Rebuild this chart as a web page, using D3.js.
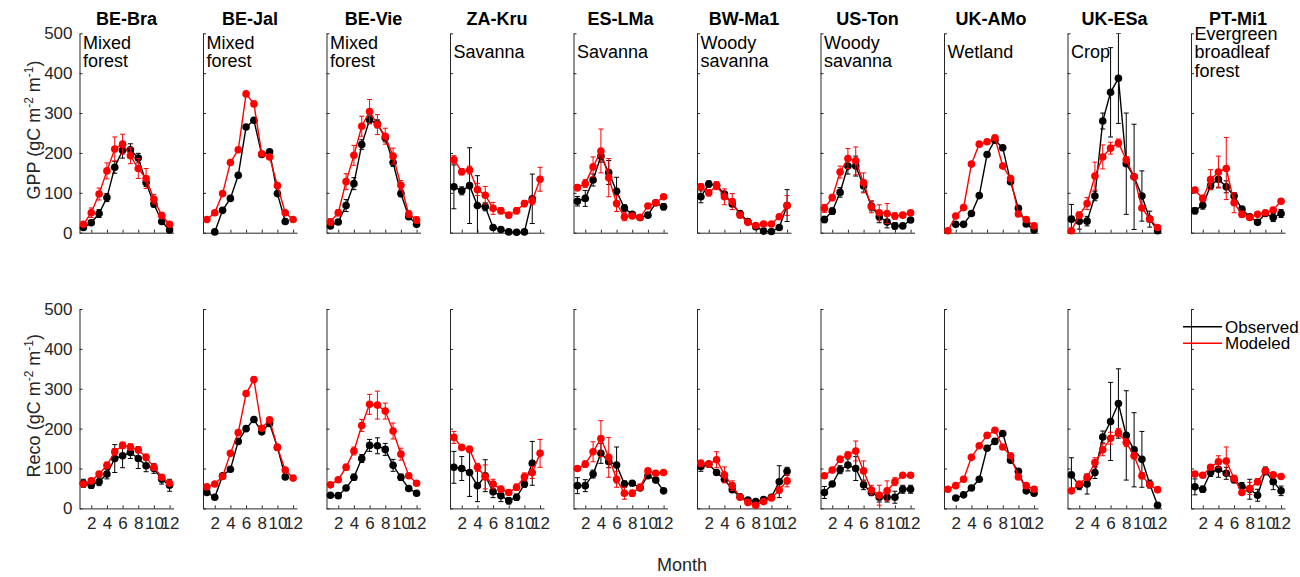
<!DOCTYPE html>
<html><head><meta charset="utf-8">
<script src="https://cdn.jsdelivr.net/npm/d3@7"></script>
<style>
body{margin:0;background:#fff;}
svg{display:block;font-family:"Liberation Sans",Arial,Helvetica,sans-serif;}
</style></head>
<body><svg id="c" width="1300" height="577"></svg>
<script>
const sites = ["BE-Bra","BE-Jal","BE-Vie","ZA-Kru","ES-LMa","BW-Ma1","US-Ton","UK-AMo","UK-ESa","PT-Mi1"];
const types = [["Mixed","forest"],["Mixed","forest"],["Mixed","forest"],["Savanna"],["Savanna"],["Woody","savanna"],["Woody","savanna"],["Wetland"],["Crop"],["Evergreen","broadleaf","forest"]];
const months = [1,2,3,4,5,6,7,8,9,10,11,12];
const monthTicks = [2,4,6,8,10,12];
const yTicks = [0,100,200,300,400,500];

const gppObs = [
 [13,25,48,88,164,207,208,187,126,72,28,7],
 [null,2,56,86,144,265,282,196,203,98,28,null],
 [17,27,68,123,221,283,273,238,176,98,40,21],
 [115,105,118,68,65,13,8,2,1,2,85,null],
 [79,86,132,192,151,104,62,46,38,44,75,65],
 [90,122,119,97,72,48,28,15,4,3,13,68],
 [33,54,101,167,167,117,67,40,27,17,17,32],
 [null,21,21,48,93,196,232,213,128,61,22,7],
 [34,29,29,92,280,352,387,173,140,92,34,5],
 [55,69,118,134,115,92,59,40,26,48,38,48]];
const gppObsErr = [
 [5,5,10,10,15,20,15,12,10,8,5,5],
 [0,0,0,0,0,0,0,0,0,0,0,0],
 [5,5,15,15,12,10,10,10,10,8,5,5],
 [55,10,95,75,10,5,5,5,5,5,62,0],
 [12,20,15,15,30,35,8,5,5,5,5,8],
 [15,8,5,5,5,5,5,5,5,5,5,40],
 [8,8,12,20,25,15,12,15,15,8,5,5],
 [0,0,0,0,0,0,0,0,0,0,0,0],
 [37,20,12,12,20,112,113,127,132,63,20,5],
 [8,10,10,20,15,8,5,5,5,5,10,10]];
const gppMod = [
 [21,50,97,155,210,222,193,161,136,84,43,21],
 [33,50,98,176,208,348,323,198,190,118,50,33],
 [27,50,128,194,267,304,271,242,192,119,47,32],
 [183,153,157,108,94,61,55,44,55,73,80,134],
 [113,123,165,205,138,73,40,42,38,67,75,90],
 [115,100,118,90,78,44,26,18,22,22,40,68],
 [61,88,152,186,180,125,65,50,48,42,44,50],
 [5,42,63,172,222,228,238,167,136,47,33,17],
 [5,44,73,142,190,212,225,183,140,62,34,13],
 [107,86,133,152,161,75,46,38,46,50,57,79]];
const gppModErr = [
 [5,12,15,20,30,25,20,25,25,12,8,5],
 [0,0,0,0,0,0,0,0,0,0,0,0],
 [8,8,20,25,25,30,25,20,20,12,8,8],
 [10,8,10,15,22,15,8,5,8,8,10,30],
 [8,10,25,55,48,20,10,5,5,5,5,5],
 [8,8,10,20,20,5,5,5,5,5,5,25],
 [10,8,15,25,35,25,15,20,25,8,5,5],
 [0,0,0,0,0,0,0,0,0,0,0,0],
 [0,8,15,35,30,15,10,8,5,5,5,5],
 [5,8,25,40,78,25,8,5,5,5,5,5]];
const recoObs = [
 [63,58,67,86,125,132,140,125,107,100,73,58],
 [40,28,82,98,168,200,223,192,213,153,79,null],
 [33,32,51,78,125,158,157,148,108,78,50,38],
 [103,100,90,57,82,42,32,19,28,61,113,null],
 [57,57,86,138,117,109,61,63,51,82,71,44],
 [105,111,90,73,47,29,21,17,22,28,67,93],
 [40,61,97,109,100,59,40,28,28,28,48,48],
 [null,26,34,51,73,151,168,188,121,93,44,38],
 [84,57,61,90,179,218,263,183,147,123,61,8],
 [54,48,90,98,88,72,55,48,33,94,67,44]];
const recoObsErr = [
 [10,8,10,12,35,30,15,25,15,12,12,15],
 [0,0,0,0,0,0,0,0,0,0,0,0],
 [5,5,5,8,10,15,20,15,15,8,5,5],
 [40,30,60,40,40,15,15,8,8,8,55,0],
 [20,15,10,25,15,45,8,5,5,5,5,5],
 [12,5,5,5,5,5,5,5,5,5,40,10],
 [15,5,10,15,30,12,8,12,12,15,10,10],
 [0,0,0,0,0,0,0,0,0,0,0,0],
 [43,10,25,15,15,98,87,112,93,70,10,5],
 [20,8,10,20,15,8,10,25,15,10,20,12]];
const recoMod = [
 [61,69,86,108,142,158,154,147,128,103,78,63],
 [54,61,80,138,190,288,323,201,222,153,96,76],
 [59,72,103,144,208,261,259,244,194,136,82,63],
 [178,153,148,103,79,61,48,40,53,79,90,138],
 [100,111,142,175,128,73,38,38,53,94,88,90],
 [113,111,122,84,57,28,15,8,17,26,46,69],
 [82,96,123,134,144,94,46,33,44,67,83,83],
 [48,57,73,128,157,183,196,154,132,79,57,48],
 [44,61,78,115,147,176,190,165,132,82,59,47],
 [86,83,103,117,119,75,40,50,67,94,84,80]];
const recoModErr = [
 [5,5,5,8,8,8,8,8,8,8,5,5],
 [0,0,0,0,0,0,0,0,0,0,0,0],
 [5,5,8,10,15,25,35,20,20,15,5,5],
 [15,5,8,10,30,12,8,5,8,10,15,35],
 [5,8,25,45,50,20,15,8,8,5,5,5],
 [8,5,20,20,12,5,5,5,5,5,8,15],
 [5,5,8,8,25,25,12,25,25,10,5,5],
 [0,0,0,0,0,0,0,0,0,0,0,0],
 [5,5,8,12,15,15,10,10,8,8,5,5],
 [5,5,5,15,35,8,5,15,8,5,5,5]];

const rowLabels = ["GPP","Reco"];
const legendLabels = ["Observed","Modeled"];
const colors = ["#000000","#ff0000"];

const svg = d3.select("#c");
const axisColor = "#262626";
const W = 94, left0 = 79.5, step = 123.5;
const rowTop = [33.3, 309], rowH = 199.4;

const x = d3.scaleLinear().domain([0.5,12.5]).range([0,W]);

const rows = [
  {obs:gppObs, obsErr:gppObsErr, mod:gppMod, modErr:gppModErr},
  {obs:recoObs, obsErr:recoObsErr, mod:recoMod, modErr:recoModErr}];

svg.append("defs").selectAll("clipPath").data([0,1]).join("clipPath")
  .attr("id",d=>"clip"+d).append("rect")
  .attr("x",-10).attr("width",W+20).attr("y",0).attr("height",rowH);

rows.forEach((row,ri)=>{
  const y = d3.scaleLinear().domain([0,500]).range([rowH,0]);
  sites.forEach((site,si)=>{
    const g = svg.append("g").attr("transform",`translate(${left0+si*step},${rowTop[ri]})`);
    // axes
    const ya = d3.axisLeft(y).tickValues(yTicks).tickSizeInner(-3).tickSizeOuter(0).tickPadding(7)
       .tickFormat(si===0? d3.format("d") : ()=>"");
    const yg = g.append("g").call(ya);
    const xa = d3.axisBottom(x).tickValues(monthTicks).tickSizeInner(-3).tickSizeOuter(0).tickPadding(9)
       .tickFormat(ri===1? d3.format("d") : ()=>"");
    const xg = g.append("g").attr("transform",`translate(0,${rowH})`).call(xa);
    [yg,xg].forEach(a=>{
      a.selectAll("path,line").attr("stroke",axisColor).attr("stroke-width",1);
      a.selectAll("text").attr("fill",axisColor).attr("font-size",17).attr("font-family","Liberation Sans, Arial, sans-serif");
    });
    if (ri===0) {
      g.append("text").attr("x",W/2).attr("y",25-rowTop[0]).attr("text-anchor","middle")
        .attr("font-weight","bold").attr("font-size",18).attr("fill","#000").text(site);
      const lines = types[si], n = lines.length;
      lines.forEach((t,k)=>{
        g.append("text").attr("x",3.5).attr("y",58.3-rowTop[0]+(k-(n-1)/2)*18.3)
          .attr("font-size",18).attr("fill","#000").text(t);
      });
    }
    const series = [[row.obs[si],row.obsErr[si]],[row.mod[si],row.modErr[si]]];
    series.forEach(([vals,errs],k)=>{
      const col = colors[k];
      const pts = months.map((m,i)=>({m, v:vals[i], e:errs[i]})).filter(d=>d.v!==null);
      const eg = g.append("g").attr("clip-path",`url(#clip${ri})`);
      pts.filter(d=>d.e>0).forEach(d=>{
        const cx = x(d.m), y1 = y(d.v-d.e), y2 = y(d.v+d.e);
        eg.append("line").attr("x1",cx).attr("x2",cx).attr("y1",y1).attr("y2",y2).attr("stroke",col).attr("stroke-width",1);
        [y1,y2].forEach(yy=>eg.append("line").attr("x1",cx-2.5).attr("x2",cx+2.5).attr("y1",yy).attr("y2",yy).attr("stroke",col).attr("stroke-width",1));
      });
      const line = d3.line().defined(d=>d.v!==null).x(d=>x(d.m)).y(d=>y(d.v));
      g.append("path").datum(months.map((m,i)=>({m,v:vals[i]})))
        .attr("d",line).attr("fill","none").attr("stroke",col).attr("stroke-width",1.4);
      g.selectAll(null).data(pts).join("circle")
        .attr("cx",d=>x(d.m)).attr("cy",d=>y(d.v)).attr("r",3.8).attr("fill",col);
    });
  });
  // y label
  const cy = rowTop[ri]+rowH/2 - 3;
  const t = svg.append("text").attr("transform",`translate(40,${cy}) rotate(-90)`)
     .attr("text-anchor","middle").attr("font-size",18).attr("fill",axisColor);
  t.append("tspan").text(rowLabels[ri]+" (gC m");
  t.append("tspan").attr("font-size",12).attr("dy",-7).text("-2");
  t.append("tspan").attr("dy",7).text(" m");
  t.append("tspan").attr("font-size",12).attr("dy",-7).text("-1");
  t.append("tspan").attr("dy",7).text(")");
});

// x label
svg.append("text").attr("x",682).attr("y",571).attr("text-anchor","middle")
  .attr("font-size",18).attr("fill",axisColor).text("Month");

// legend
legendLabels.forEach((lab,k)=>{
  const ly = 326.7 + k*16.6;
  svg.append("line").attr("x1",1183).attr("x2",1222).attr("y1",ly).attr("y2",ly)
    .attr("stroke",colors[k]).attr("stroke-width",1.4);
  svg.append("text").attr("x",1225).attr("y",ly+6).attr("font-size",17).attr("fill","#000").text(lab);
});
</script></body></html>
